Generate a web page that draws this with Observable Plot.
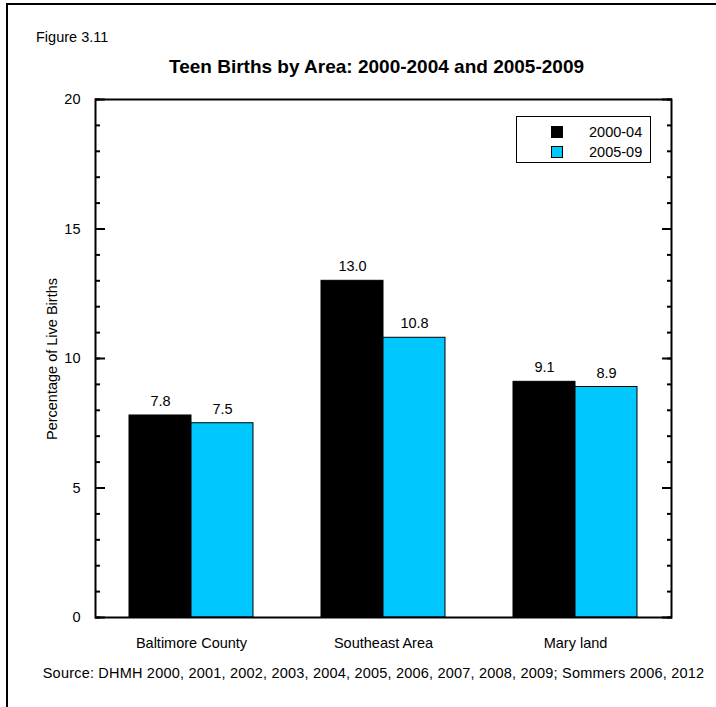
<!DOCTYPE html>
<html>
<head>
<meta charset="utf-8">
<script src="https://cdn.jsdelivr.net/npm/d3@7"></script>
<script src="https://cdn.jsdelivr.net/npm/@observablehq/plot@0.6"></script>
<style>
  html, body { margin: 0; padding: 0; background: #fff; }
  body { font-family: "Liberation Sans", Arial, sans-serif; color: #000; }
  #wrap { position: relative; width: 716px; height: 707px; overflow: hidden; }
  #frameTop { position: absolute; left: 6px; top: 3px; width: 710px; height: 2px; background: #000; }
  #frameLeft { position: absolute; left: 6px; top: 3px; width: 2px; height: 704px; background: #000; }
  #fig { position: absolute; left: 36px; top: 29px; font-size: 14.5px; }
  #title { position: absolute; left: 0; width: 753px; top: 56px; text-align: center; font-size: 19px; font-weight: bold; }
  #ylab { position: absolute; left: 52px; top: 359px; transform: translate(-50%, -50%) rotate(-90deg); white-space: nowrap; font-size: 14.5px; }
  #source { position: absolute; left: 0; width: 747px; top: 665px; text-align: center; font-size: 14.5px; letter-spacing: 0.2px; white-space: nowrap; }
  #chart { position: absolute; left: 0; top: 0; }
  #legend { position: absolute; left: 516px; top: 116px; width: 133px; height: 45px; border: 1.5px solid #000; background: #fff; }
  .lrow { position: absolute; left: 0; width: 133px; height: 16px; }
  .sw { position: absolute; left: 34px; width: 10px; height: 10px; border: 1px solid #000; }
  .lt { position: absolute; left: 72px; font-size: 14.5px; line-height: 16px; }
</style>
</head>
<body>
<div id="wrap">
  <div id="chart"></div>
  <div id="frameTop"></div>
  <div id="frameLeft"></div>
  <div id="fig">Figure 3.11</div>
  <div id="title">Teen Births by Area: 2000-2004 and 2005-2009</div>
  <div id="ylab">Percentage of Live Births</div>
  <div id="source">Source: DHMH 2000, 2001, 2002, 2003, 2004, 2005, 2006, 2007, 2008, 2009; Sommers 2006, 2012</div>
  <div id="legend"></div>
</div>
<script>
const areas = ["Baltimore County", "Southeast Area", "Mary land"];
const series = ["2000-04", "2005-09"];
const values2000_04 = [7.8, 13.0, 9.1];
const values2005_09 = [7.5, 10.8, 8.9];
const colors = ["#000000", "#00c8ff"];
const majorTicks = [0, 5, 10, 15, 20];
const minorTicks = d3.range(0, 21);

const data = [];
areas.forEach((a, i) => {
  data.push({area: a, series: series[0], value: values2000_04[i]});
  data.push({area: a, series: series[1], value: values2005_09[i]});
});

const font = "Liberation Sans, Arial, sans-serif";

const chart = Plot.plot({
  width: 716,
  height: 707,
  marginLeft: 95,
  marginRight: 45,
  marginTop: 99,
  marginBottom: 90,
  style: {fontFamily: font, fontSize: "14.5px", color: "#000", background: "transparent"},
  fx: {domain: areas, paddingInner: 0, paddingOuter: 0, label: null},
  x: {domain: series, paddingInner: 0, paddingOuter: 0.536, axis: null},
  y: {domain: [0, 20], label: null},
  color: {domain: series, range: colors},
  marks: [
    Plot.barY(data, {fx: "area", x: "series", y: "value", fill: "series", stroke: "#000", strokeWidth: 1}),
    Plot.text(data, {fx: "area", x: "series", y: "value", text: d => d.value.toFixed(1), dy: -14, fontSize: 14.5, fill: "#000"}),
    Plot.axisY({ticks: majorTicks, tickSize: 0, tickPadding: 15, facetAnchor: "left", anchor: "left", label: null, fontSize: 14.5}),
    Plot.axisY({ticks: majorTicks, tickSize: -10, tickFormat: () => "", facetAnchor: "left", anchor: "left", label: null, strokeWidth: 2}),
    Plot.axisY({ticks: minorTicks, tickSize: -5, tickFormat: () => "", facetAnchor: "left", anchor: "left", label: null, strokeWidth: 2}),
    Plot.axisY({ticks: majorTicks, tickSize: -10, tickFormat: () => "", facetAnchor: "right", anchor: "right", label: null, strokeWidth: 2}),
    Plot.axisY({ticks: minorTicks, tickSize: -5, tickFormat: () => "", facetAnchor: "right", anchor: "right", label: null, strokeWidth: 2}),
    Plot.axisFx({tickSize: 0, tickPadding: 20, label: null, fontSize: 14.5, anchor: "bottom"}),
    Plot.frame({facet: "super", stroke: "#000", strokeWidth: 2})
  ]
});
document.getElementById("chart").appendChild(chart);

// legend
const legend = document.getElementById("legend");
series.forEach((s, i) => {
  const row = document.createElement("div");
  row.className = "lrow";
  row.style.top = (7 + i * 20) + "px";
  const sw = document.createElement("div");
  sw.className = "sw";
  sw.style.top = "2px";
  sw.style.background = colors[i];
  const t = document.createElement("div");
  t.className = "lt";
  t.style.top = "0px";
  t.textContent = s;
  row.appendChild(sw);
  row.appendChild(t);
  legend.appendChild(row);
});
</script>
</body>
</html>
